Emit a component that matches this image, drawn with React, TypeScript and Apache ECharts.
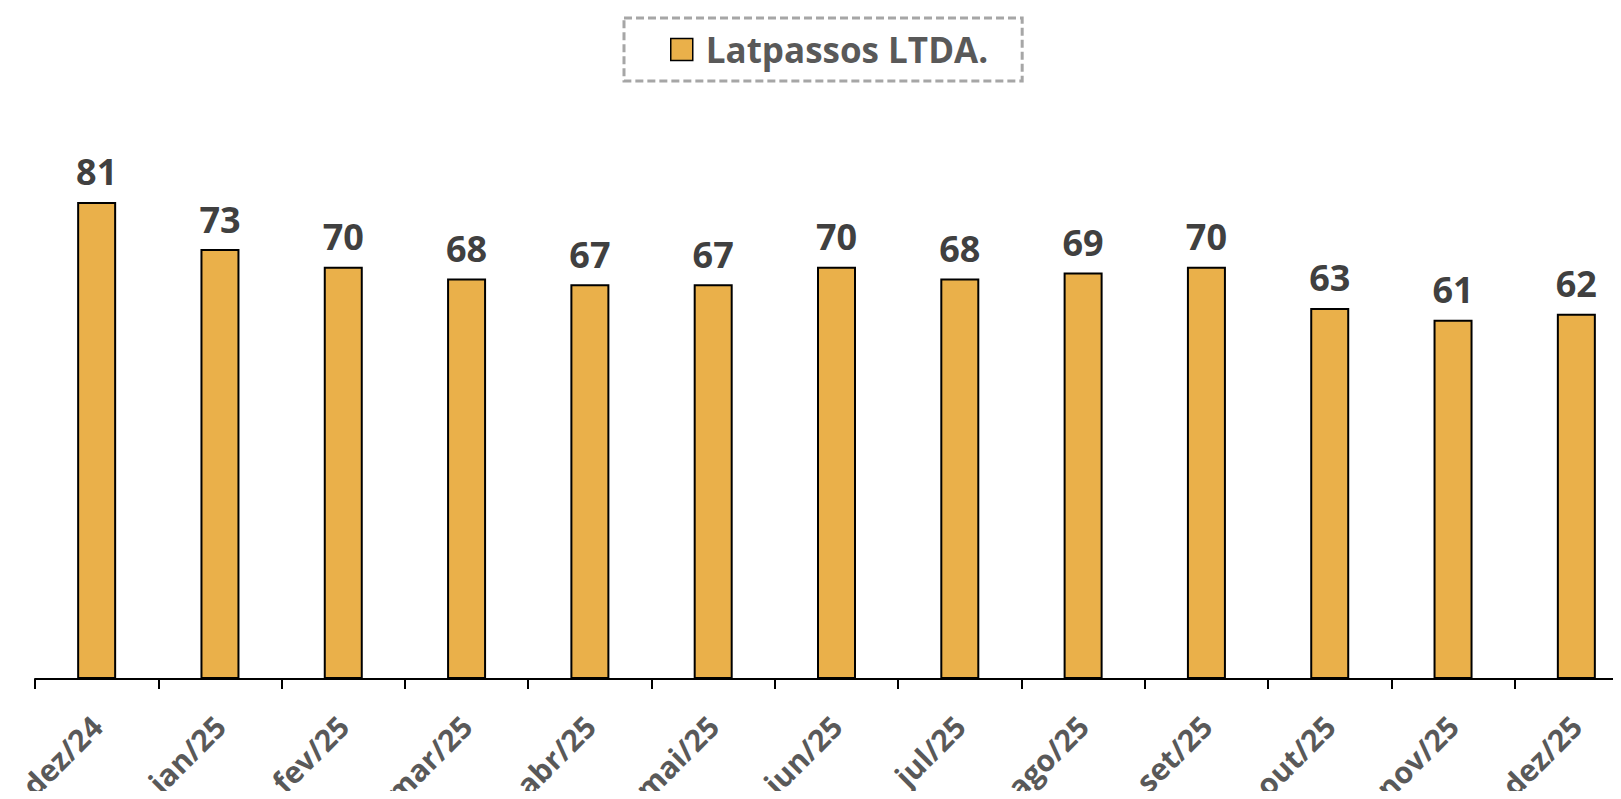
import React, { useEffect, useRef } from "react";
import * as echarts from "echarts";

const categories = ["dez/24", "jan/25", "fev/25", "mar/25", "abr/25", "mai/25", "jun/25", "jul/25", "ago/25", "set/25", "out/25", "nov/25", "dez/25"];
const values = [81, 73, 70, 68, 67, 67, 70, 68, 69, 70, 63, 61, 62];
const seriesName = "Latpassos LTDA.";

export default function App() {
  const ref = useRef<HTMLDivElement>(null);
  useEffect(() => {
    if (!ref.current) return;
    const chart = echarts.init(ref.current, undefined, { renderer: "svg" });
    const font = "'Open Sans', 'Noto Sans', sans-serif";
    chart.setOption({
      animation: false,
      legend: {
        data: [seriesName],
        left: 616,
        top: 10,
        icon: "rect",
        itemWidth: 22,
        itemHeight: 22,
        itemGap: 12,
        padding: [14, 34, 14, 46],
        borderColor: "#A6A6A6",
        borderWidth: 3,
        borderType: [8, 4],
        itemStyle: { borderColor: "#000", borderWidth: 1.5 },
        textStyle: { fontSize: 35, fontWeight: "bold", color: "#595959", fontFamily: font, padding: [0, 0, 0, 8] },
      },
      grid: { left: 27, top: 82, width: 1603, height: 589, containLabel: false, outerBoundsMode: "none" },
      xAxis: {
        type: "category",
        data: categories,
        boundaryGap: true,
        axisLine: { lineStyle: { color: "#000", width: 2 } },
        axisTick: { show: true, length: 10, lineStyle: { color: "#000", width: 2 } },
        axisLabel: {
          rotate: 45,
          fontSize: 30,
          fontWeight: "bold",
          color: "#595959",
          fontFamily: font,
          margin: 42,
          interval: 0,
        },
      },
      yAxis: {
        type: "value",
        min: 0,
        max: 100,
        show: false,
        splitLine: { show: false },
      },
      series: [
        {
          name: seriesName,
          type: "bar",
          data: values,
          barWidth: 39,
          itemStyle: { color: "#EAB04A", borderColor: "#000", borderWidth: 2 },
          label: {
            show: true,
            position: "top",
            distance: 12,
            fontSize: 36,
            fontWeight: "bold",
            color: "#404040",
            fontFamily: font,
          },
        },
      ],
    });
    return () => chart.dispose();
  }, []);
  return <div ref={ref} style={{ width: 1605, height: 783 }} />;
}
